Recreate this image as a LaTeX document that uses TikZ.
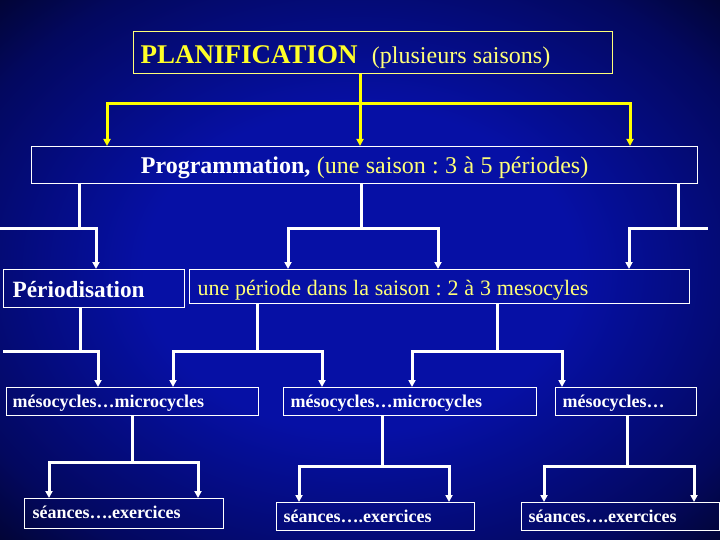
\documentclass[tikz,border=0pt]{standalone}
\usepackage{fontspec}
\setmainfont{Liberation Serif}
\usetikzlibrary{arrows.meta}
\definecolor{ytext}{RGB}{255,255,120}
\definecolor{ybright}{RGB}{255,255,40}
\definecolor{yline}{RGB}{255,255,0}
\definecolor{bgc}{RGB}{6,16,165}
\definecolor{bgm}{RGB}{3,8,95}
\definecolor{bgd}{RGB}{1,3,35}
\pgfdeclareradialshading{bgshade}{\pgfpoint{0bp}{0bp}}{color(0bp)=(bgc); color(15bp)=(bgc); color(30bp)=(bgm); color(38bp)=(bgd); color(45bp)=(black); color(50bp)=(black)}
\newcommand\fs[1]{\fontsize{#1}{#1}\selectfont\frenchspacing\spaceskip=0.265em\xspaceskip=0.265em\relax}
\begin{document}
\begin{tikzpicture}[x=1pt,y=-1pt,
  wbox/.style={draw=white, line width=1.2pt, anchor=north west, inner ysep=0pt, align=left, text=white},
  ybox/.style={wbox, draw=ytext},
  wl/.style={draw=white, line width=3pt},
  yl/.style={draw=yline, line width=3pt},
  arr/.style={-{Triangle[length=7pt,width=7pt]}}]
\useasboundingbox (0,0) rectangle (720,540);
\shade[shading=bgshade] (0,0) rectangle (720,540);

% boxes
\node[ybox, inner xsep=7pt, text width=465pt, text height=32pt, text depth=10pt] (plan) at (133,31)
  {\fs{24}{\fs{27}\bfseries\color{ybright}PLANIFICATION}\hspace{8pt} {\fs{24}\color{ytext}(plusieurs saisons)}};
\node[wbox, inner xsep=7pt, text width=652pt, text height=26.5pt, text depth=10.5pt, align=center] (prog) at (31,146)
  {\fs{24}{\bfseries Programmation,} {\color{ytext}(une saison : 3 à 5 périodes)}};
\node[wbox, inner xsep=9pt, text width=163pt, text height=28pt, text depth=10pt] (per) at (3,269)
  {\fs{23.3}\bfseries Périodisation};
\node[wbox, inner xsep=8pt, text width=484pt, text height=26pt, text depth=8pt, text=ytext] (une) at (189,269)
  {\fs{22}une période dans la saison : 2 à 3 mesocyles};
\node[wbox, inner xsep=6pt, text width=240pt, text height=20pt, text depth=8pt] (m1) at (6,387)
  {\fs{18}\bfseries mésocycles…microcycles};
\node[wbox, inner xsep=7pt, text width=239pt, text height=20pt, text depth=8pt] (m2) at (283,387)
  {\fs{18}\bfseries mésocycles…microcycles};
\node[wbox, inner xsep=7pt, text width=127pt, text height=20pt, text depth=8pt] (m3) at (555,387)
  {\fs{18}\bfseries mésocycles…};
\node[wbox, inner xsep=8pt, text width=183pt, text height=20pt, text depth=10pt] (s1) at (24,498)
  {\fs{18}\bfseries séances….exercices};
\node[wbox, inner xsep=7pt, text width=184pt, text height=20pt, text depth=8pt] (s2) at (276,502)
  {\fs{18}\bfseries séances….exercices};
\node[wbox, inner xsep=7pt, text width=184pt, text height=20pt, text depth=8pt] (s3) at (521,502)
  {\fs{18}\bfseries séances….exercices};

% junction coordinates
\coordinate (yb) at (360,104);
\coordinate (b1) at (79,229);  \coordinate (e1) at (0,229);
\coordinate (b2) at (361,229);
\coordinate (b3) at (678,229); \coordinate (e3) at (708,229);
\coordinate (c1) at (80,351);  \coordinate (f1) at (3,351);
\coordinate (c2) at (257,351);
\coordinate (c3) at (497,351);
\coordinate (d1) at (132,462);
\coordinate (d2) at (382,466);
\coordinate (d3) at (627,466);

% yellow connectors
\draw[yl] (plan.south -| yb) -- (yb);
\draw[yl,arr] (yb) -| ([xshift=76pt]prog.north west);
\draw[yl,arr] (yb) -- (prog.north -| yb);
\draw[yl,arr] (yb) -| ([xshift=599pt]prog.north west);

% level 2
\draw[wl] (prog.south -| b1) -- (b1);
\draw[wl] (b1) -- (e1);
\draw[wl,arr] (b1) -| ([xshift=93pt]per.north west);
\draw[wl] (prog.south -| b2) -- (b2);
\draw[wl,arr] (b2) -| ([xshift=99pt]une.north west);
\draw[wl,arr] (b2) -| ([xshift=249pt]une.north west);
\draw[wl] (prog.south -| b3) -- (b3);
\draw[wl] (b3) -- (e3);
\draw[wl,arr] (b3) -| ([xshift=440pt]une.north west);

% level 3
\draw[wl] (per.south -| c1) -- (c1);
\draw[wl] (c1) -- (f1);
\draw[wl,arr] (c1) -| ([xshift=92pt]m1.north west);
\draw[wl] (une.south -| c2) -- (c2);
\draw[wl,arr] (c2) -| ([xshift=167pt]m1.north west);
\draw[wl,arr] (c2) -| ([xshift=39pt]m2.north west);
\draw[wl] (une.south -| c3) -- (c3);
\draw[wl,arr] (c3) -| ([xshift=129pt]m2.north west);
\draw[wl,arr] (c3) -| ([xshift=7pt]m3.north west);

% level 4
\draw[wl] (m1.south -| d1) -- (d1);
\draw[wl,arr] (d1) -| ([xshift=25pt]s1.north west);
\draw[wl,arr] (d1) -| ([xshift=174pt]s1.north west);
\draw[wl] (m2.south -| d2) -- (d2);
\draw[wl,arr] (d2) -| ([xshift=23pt]s2.north west);
\draw[wl,arr] (d2) -| ([xshift=173pt]s2.north west);
\draw[wl] (m3.south -| d3) -- (d3);
\draw[wl,arr] (d3) -| ([xshift=23pt]s3.north west);
\draw[wl,arr] (d3) -| ([xshift=173pt]s3.north west);
\end{tikzpicture}
\end{document}
